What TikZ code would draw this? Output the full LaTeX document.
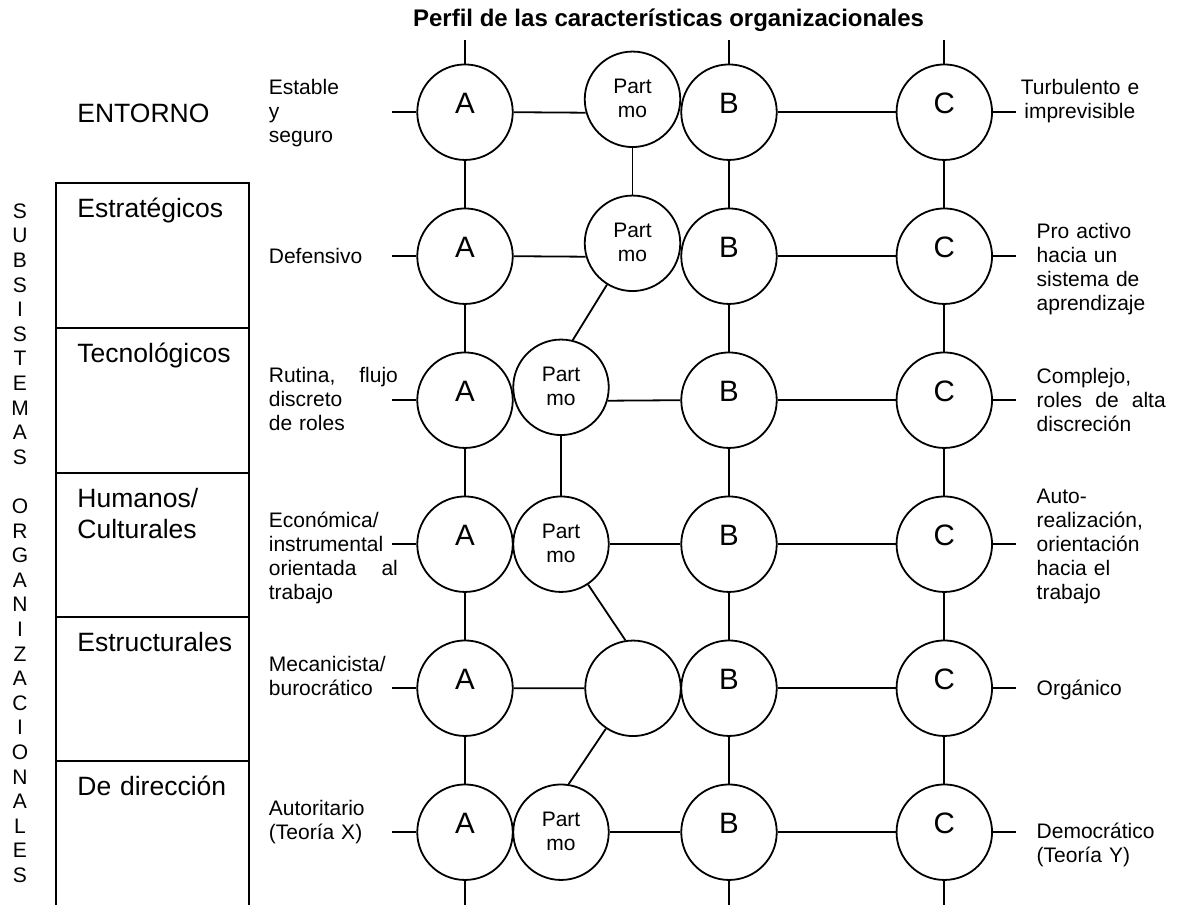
\documentclass[tikz,border=0pt]{standalone}
\usepackage{fontspec}
\setmainfont{Liberation Sans}
% letter set a little high inside its circle
\newcommand\letr[1]{\raisebox{-1pt}[0pt][0pt]{\fontsize{29.5}{30}\selectfont #1}}
% two-line "Part / mo" label, centred on the circle
\newcommand\partmo{\raisebox{-18pt}[0pt][0pt]{\vbox{\baselineskip=24pt
  \hbox to 0pt{\hss Part\hss}\hbox to 0pt{\hss mo\hss}}}}
\begin{document}
\begin{tikzpicture}[x=1pt,y=-1pt,
  line width=1.8pt,
  every node/.style={inner sep=0pt},
  ring/.style={circle,draw,minimum size=95.5pt,line width=1.8pt,
               font=\fontsize{21}{24}\selectfont},
  lbl/.style={font=\fontsize{21}{24}\selectfont,anchor=base west,
              align=left,text width=129pt},
  big/.style={font=\fontsize{26.5}{31}\selectfont,anchor=base west,
              align=left,text width=170pt},
]
\useasboundingbox (0,0) rectangle (1177,905);

% ---- title ----
\node[font=\bfseries\fontsize{24}{28}\selectfont,anchor=base] (title)
  at (668.6,26) {Perfil de las características organizacionales};

% ---- subsystem column ----
\draw (56.3,905) -- (56.3,183.3) -- (248.8,183.3) -- (248.8,905);
\foreach \y in {328.3,473.3,617.3,761} \draw (56.3,\y) -- (248.8,\y);

\node[font=\fontsize{21}{24.6}\selectfont,anchor=base,align=center,text width=24pt]
  (sub) at (20,218.3)
  {S\\U\\B\\S\\I\\S\\T\\E\\M\\A\\S\\[24.6pt]O\\R\\G\\A\\N\\I\\Z\\A\\C\\I\\O\\N\\A\\L\\E\\S};

\node[big] (env) at (76.5,122.7) {ENTORNO};
\node[big] (s1) at (76.5,217.3) {Estratégicos};
\node[big] (s2) at (76.5,362.3) {Tecnológicos};
\node[big] (s3) at (76.5,507.3) {Humanos/\\Culturales};
\node[big] (s4) at (76.5,651.3) {Estructurales};
\node[big] (s5) at (76.5,795) {De dirección};

% ---- profile grid ----
\foreach \i/\y in {1/112.2,2/256.2,3/400.2,4/544.2,5/688.2,6/832.2} {
  \node[ring] (a\i) at (465,\y) {\letr{A}};
  \node[ring] (b\i) at (729,\y) {\letr{B}};
  \node[ring] (c\i) at (944.3,\y) {\letr{C}};
  \coordinate (l\i) at (392.3,\y);
  \coordinate (r\i) at (1016,\y);
}
\node[ring] (p1) at (632.5,99.3) {\partmo};
\node[ring] (p2) at (632.5,243.3) {\partmo};
\node[ring] (p3) at (561,387.3) {\partmo};
\node[ring] (p4) at (561,544.2) {\partmo};
\node[ring] (m5) at (633,688.3) {};
\node[ring] (p6) at (561,832.2) {\partmo};

\foreach \k/\x in {a/465,b/729,c/944.3} {
  \coordinate (t\k) at (\x,40);
  \coordinate (z\k) at (\x,905);
  \draw (t\k) -- (\k1);
  \draw (\k6) -- (z\k);
  \foreach \i/\j in {1/2,2/3,3/4,4/5,5/6} \draw (\k\i) -- (\k\j);
}
\foreach \i in {1,...,6} {
  \draw (l\i) -- (a\i.west);
  \draw (b\i.east) -- (c\i.west);
  \draw (c\i.east) -- (r\i);
}
\draw (a1.east) -- (p1.196);
\draw (a2.east) -- (p2.196);
\draw (p3.-16) -- (b3.west);
\draw (p4.east) -- (b4.west);
\draw (a5.east) -- (m5.west);
\draw (p6.east) -- (b6.west);
\draw (p1) -- (p2);
\draw (p3) -- (p4);
\draw (p2) -- (p3.76);
\draw (p4) -- (m5.99);
\draw (p6.81) -- (m5);

% ---- left descriptions ----
\node[lbl] (w1) at (268,94.5) {Estable\\y\\seguro};
\node[lbl] (w2) at (268,263.3) {Defensivo};
\node[lbl] (w3) at (268,382) {Rutina,\hfill flujo\\discreto\\de roles};
\node[lbl] (w4) at (268,527.2) {Económica/\\instrumental\\orientada\hfill al\\trabajo};
\node[lbl] (w5) at (268,671) {Mecanicista/\\burocrático};
\node[lbl] (w6) at (268,815) {Autoritario\\(Teoría X)};

% ---- right descriptions ----
\node[lbl,text width=150pt] (q1) at (1020,94) {Turbulento e\\\hspace*{3.5pt}imprevisible};
\node[lbl] (q2) at (1035.8,238.7) {Pro activo\\hacia un\\sistema de\\aprendizaje};
\node[lbl] (q3) at (1035.8,383) {Complejo,\\roles\hfill de\hfill alta\\discreción};
\node[lbl] (q4) at (1035.8,503.5) {Auto-\\realización,\\orientación\\hacia el\\trabajo};
\node[lbl] (q5) at (1035.8,695) {Orgánico};
\node[lbl] (q6) at (1035.8,838.5) {Democrático\\(Teoría Y)};
\end{tikzpicture}
\end{document}
